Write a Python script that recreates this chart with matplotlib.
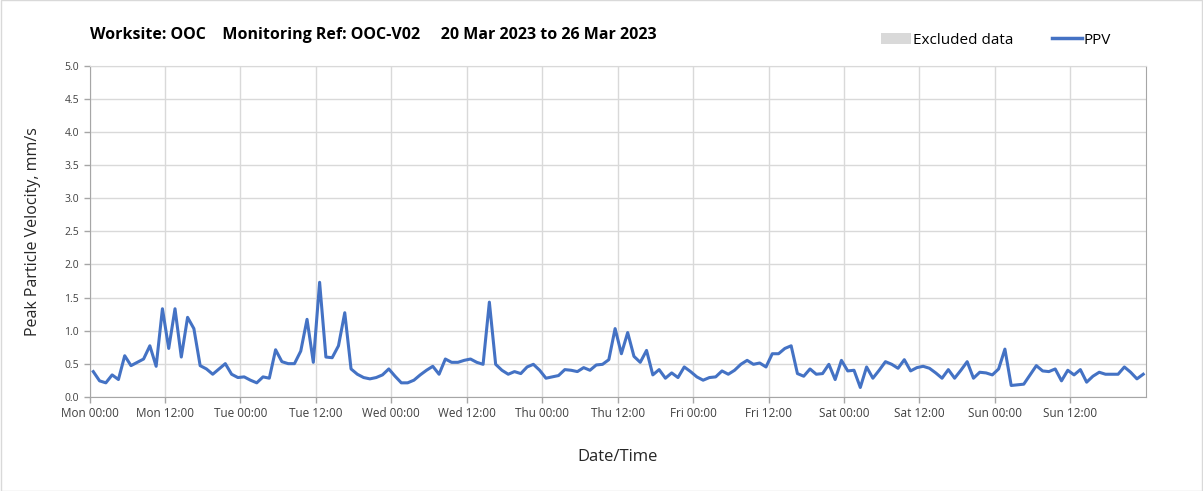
import numpy as np
import matplotlib
matplotlib.use('Agg')
import matplotlib.pyplot as plt
from matplotlib.patches import Patch, Rectangle
from matplotlib.lines import Line2D

plt.rcParams['font.family'] = ['Open Sans', 'DejaVu Sans']

# hourly PPV readings, 20 Mar 2023 00:00 -> 26 Mar 2023 24:00
ppv = [0.38, 0.24, 0.21, 0.33, 0.26, 0.62, 0.47, 0.52, 0.57, 0.77, 0.46, 1.33,
       0.73, 1.33, 0.60, 1.20, 1.03, 0.47, 0.42, 0.34, 0.42, 0.50, 0.34, 0.29,
       0.30, 0.25, 0.21, 0.30, 0.28, 0.71, 0.53, 0.50, 0.50, 0.69, 1.17, 0.52,
       1.73, 0.60, 0.59, 0.77, 1.27, 0.42, 0.34, 0.29, 0.27, 0.29, 0.33, 0.42,
       0.31, 0.21, 0.21, 0.25, 0.33, 0.40, 0.46, 0.34, 0.57, 0.52, 0.52, 0.55,
       0.57, 0.52, 0.49, 1.43, 0.49, 0.40, 0.34, 0.38, 0.35, 0.45, 0.49, 0.40,
       0.28, 0.30, 0.32, 0.41, 0.40, 0.38, 0.44, 0.40, 0.48, 0.49, 0.56, 1.03,
       0.65, 0.97, 0.61, 0.52, 0.70, 0.33, 0.41, 0.28, 0.36, 0.29, 0.45, 0.38,
       0.30, 0.25, 0.29, 0.30, 0.39, 0.34, 0.40, 0.49, 0.55, 0.49, 0.51, 0.45,
       0.65, 0.65, 0.73, 0.77, 0.35, 0.31, 0.42, 0.34, 0.35, 0.49, 0.26, 0.55,
       0.39, 0.40, 0.14, 0.45, 0.28, 0.40, 0.53, 0.49, 0.43, 0.56, 0.39, 0.44,
       0.46, 0.43, 0.36, 0.28, 0.41, 0.28, 0.40, 0.53, 0.28, 0.37, 0.36, 0.33,
       0.42, 0.72, 0.17, 0.18, 0.19, 0.33, 0.47, 0.39, 0.38, 0.42, 0.24, 0.40,
       0.33, 0.41, 0.22, 0.31, 0.37, 0.34, 0.34, 0.34, 0.45, 0.37, 0.27, 0.34]
hours = np.arange(len(ppv)) + 0.6

days = ['Mon', 'Tue', 'Wed', 'Thu', 'Fri', 'Sat', 'Sun']
tick_labels = [d + t for d in days for t in [' 00:00', ' 12:00']]
tick_hours = np.arange(0, 168, 12)

fig = plt.figure(figsize=(12.03, 4.91), dpi=100)
fig.patches.append(Rectangle((0.001, 0.001), 0.998, 0.998, transform=fig.transFigure,
                             fill=False, edgecolor='#d9d9d9', lw=1))
ax = fig.add_axes([0.0744, 0.192, 0.878, 0.6736])

ax.plot(hours, ppv, color='#4472C4', lw=2.2)

ax.set_xlim(0, 168)
ax.set_ylim(0, 5)
ax.set_xticks(tick_hours)
ax.set_xticklabels(tick_labels, fontsize=8.5, color='#404040')
ax.set_yticks(np.arange(0, 5.01, 0.5))
ax.set_yticklabels(['%.1f' % v for v in np.arange(0, 5.01, 0.5)], fontsize=7.5, color='#404040')
ax.tick_params(axis='both', length=4, color='#a6a6a6', width=1)
ax.grid(True, color='#d9d9d9', lw=1)
ax.set_axisbelow(True)
for s in ax.spines.values():
    s.set_color('#a6a6a6')
ax.spines['top'].set_color('#d9d9d9')

ax.set_xlabel('Date/Time', fontsize=12, color='#262626', labelpad=21)
ax.set_ylabel('Peak Particle Velocity, mm/s', fontsize=11.5, color='#262626', labelpad=17)

fig.text(0.0748, 0.928, 'Worksite: OOC    Monitoring Ref: OOC-V02     20 Mar 2023 to 26 Mar 2023',
         fontsize=11.5, fontweight='bold', color='#000000', va='center')

handles = [Patch(facecolor='#d9d9d9', edgecolor='none'),
           Line2D([0], [0], color='#4472C4', lw=2.5)]
fig.legend(handles, ['Excluded data', 'PPV'], ncol=2, loc='center right',
           bbox_to_anchor=(0.935, 0.918), frameon=False, fontsize=11,
           handlelength=2.0, handletextpad=0.1, columnspacing=2.5)

fig.savefig('out.png', dpi=100)
